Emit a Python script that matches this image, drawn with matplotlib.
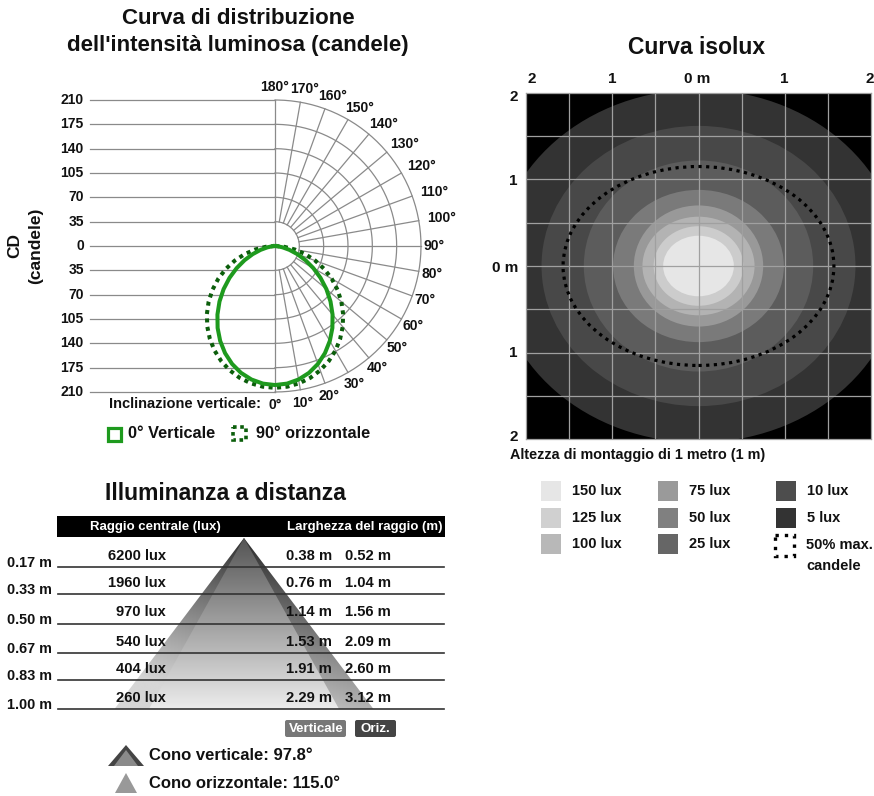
import numpy as np
import matplotlib
matplotlib.use('Agg')
import matplotlib.pyplot as plt
from matplotlib.patches import Ellipse, Rectangle, Polygon, FancyBboxPatch
from matplotlib.colors import LinearSegmentedColormap

plt.rcParams['font.family'] = ['Liberation Sans', 'DejaVu Sans']
plt.rcParams['font.weight'] = 'bold'

W, H = 874, 796

# ---------------- data ----------------
cd_tick_values = [210, 175, 140, 105, 70, 35, 0, -35, -70, -105, -140, -175, -210]
cd_rings = [35, 70, 105, 140, 175, 210]
angle_labels = list(range(0, 181, 10))
theta_deg = [0, 5, 10, 15, 20, 25, 30, 35, 40, 45, 50, 55, 60, 65, 70, 75, 80, 85, 90]
cd_vertical = [200, 198.7, 195, 188.9, 180.5, 170, 157.7, 143.9, 128.8, 112.9,
               96.5, 79.9, 63.7, 48.3, 34.1, 21.5, 11.1, 3.6, 0]
cd_horizontal = [204, 203.1, 200.5, 196.3, 190.3, 182.8, 173.8, 163.3, 151.5, 138.6,
                 124.6, 109.8, 94.2, 78.1, 61.7, 45.2, 29.0, 13.4, 0]

lux_levels = [5, 10, 25, 50, 75, 100, 125, 150]
iso_half_w = [2.35, 1.82, 1.33, 0.99, 0.75, 0.65, 0.52, 0.41]
iso_half_h = [2.04, 1.62, 1.22, 0.88, 0.70, 0.57, 0.46, 0.35]
iso_colors = ['#333333', '#484848', '#5c5c5c', '#7a7a7a', '#999999', '#b3b3b3', '#cccccc', '#e6e6e6']
legend_colors = ['#333333', '#4d4d4d', '#666666', '#808080', '#9a9a9a', '#b8b8b8', '#d0d0d0', '#e6e6e6']
half_cd_w, half_cd_h = 1.57, 1.15
iso_ticks = [-2, -1, 0, 1, 2]
iso_tick_labels = ['2', '1', '0 m', '1', '2']

distances = [0.17, 0.33, 0.50, 0.67, 0.83, 1.00]
center_lux = [6200, 1960, 970, 540, 404, 260]
width_vert = [0.38, 0.76, 1.14, 1.53, 1.91, 2.29]
width_horiz = [0.52, 1.04, 1.56, 2.09, 2.60, 3.12]
cone_vert = 97.8
cone_horiz = 115.0

GREEN = '#1e9a1e'
DGREEN = '#0b5e0b'
GRID = '#8a8a8a'

fig = plt.figure(figsize=(W / 100, H / 100), dpi=100)
fig.patch.set_facecolor('white')


def add_ax(x0, y0, x1, y1, **kw):
    return fig.add_axes([x0 / W, 1 - y1 / H, (x1 - x0) / W, (y1 - y0) / H], **kw)


ov = add_ax(0, 0, W, H)
ov.set_xlim(0, W)
ov.set_ylim(H, 0)
ov.axis('off')
ov.set_zorder(5)


def T(x, y, s, size=9, ha='left', va='center', color='#111111', **kw):
    ov.text(x, y, s, fontsize=size, ha=ha, va=va, color=color, fontweight='bold', **kw)


# ---------------- polar candela chart ----------------
s = 146 / 210.0  # px per cd
cx, cy = 275, 246
pax = add_ax(0, 80, 460, 450)
pax.set_xlim(-cx / s, (460 - cx) / s)
pax.set_ylim(-(450 - cy) / s, (cy - 80) / s)
pax.axis('off')

for v in cd_tick_values:
    pax.plot([-266, 0], [v, v], color=GRID, lw=0.9, zorder=1)
    pax.text(-275, v, str(abs(v)), ha='right', va='center', fontsize=10, fontweight='bold', color='#111111')
pax.plot([0, 0], [-210, 210], color=GRID, lw=0.9, zorder=1)
t = np.linspace(-np.pi / 2, np.pi / 2, 200)
for r in cd_rings:
    pax.plot(r * np.cos(t), r * np.sin(t), color=GRID, lw=0.9, zorder=1)
for a in angle_labels[1:-1]:
    ar = np.deg2rad(a)
    pax.plot([35 * np.sin(ar), 210 * np.sin(ar)], [-35 * np.cos(ar), -210 * np.cos(ar)],
             color=GRID, lw=0.9, zorder=1)
for a in angle_labels:
    ar = np.deg2rad(a)
    lab = f'{a}°'
    rr = 229
    off = (len(lab) - 3) * 14 * np.sin(ar)
    pax.text(rr * np.sin(ar) + off, -rr * np.cos(ar), lab, ha='center', va='center',
             fontsize=10, fontweight='bold', color='#111111')

th = np.deg2rad(np.array(theta_deg))
ang = np.concatenate([-th[::-1], th[1:]])
for vals, col, ls in [(cd_horizontal, DGREEN, (0, (1, 1.1))), (cd_vertical, GREEN, '-')]:
    I = np.array(vals)
    II = np.concatenate([I[::-1], I[1:]])
    pax.plot(II * np.sin(ang), -II * np.cos(ang), color=col, lw=2.9, linestyle=ls, zorder=3)

T(238, 19, 'Curva di distribuzione', size=16, ha='center')
T(238, 46, "dell'intensità luminosa (candele)", size=16, ha='center')
T(15, 246, 'CD', size=12.5, ha='center', rotation=90)
T(36, 246, '(candele)', size=12.5, ha='center', rotation=90)
T(261, 404, 'Inclinazione verticale:', size=10.5, ha='right')

ov.add_patch(Rectangle((107.5, 427.5), 13, 13, facecolor='white', edgecolor=GREEN, lw=2.3))
ov.add_patch(Rectangle((233, 427), 13, 13, facecolor='white', edgecolor=DGREEN, lw=2.6,
                       linestyle=(0, (1, 1))))
T(128, 434, '0° Verticale', size=11.7)
T(256, 434, '90° orizzontale', size=11.7)

# ---------------- isolux ----------------
iax = add_ax(526, 93, 871, 439)
iax.set_xlim(-2, 2)
iax.set_ylim(-2, 2)
iax.set_facecolor('black')
for hw, hh, col in zip(iso_half_w, iso_half_h, iso_colors):
    iax.add_patch(Ellipse((0, 0), 2 * hw, 2 * hh, facecolor=col, edgecolor='none', zorder=1))
for g in np.arange(-1.5, 1.51, 0.5):
    iax.axvline(g, color='#a0a0a0', lw=0.9, zorder=3)
    iax.axhline(g, color='#a0a0a0', lw=0.9, zorder=3)
iax.add_patch(Ellipse((0, 0), 2 * half_cd_w, 2 * half_cd_h, facecolor='none', edgecolor='black',
                      lw=2.3, linestyle=(0, (1, 1.4)), zorder=4))
iax.set_xticks([])
iax.set_yticks([])
for sp in iax.spines.values():
    sp.set_color('#a0a0a0')
    sp.set_linewidth(0.9)

T(697, 47, 'Curva isolux', size=16.5, ha='center')
top_x = [527, 612, 697, 784, 874]
top_ha = ['left', 'center', 'center', 'center', 'right']
for xv, lab, x, ha in zip(iso_ticks, iso_tick_labels, top_x, top_ha):
    T(x, 79, lab, size=11, ha=ha)
left_y = [97, 181, 268, 353, 437]
for yv, lab, y in zip(iso_ticks, iso_tick_labels, left_y):
    T(518, y, lab, size=11, ha='right')
T(510, 455, 'Altezza di montaggio di 1 metro (1 m)', size=10.4)

leg_order = [150, 125, 100, 75, 50, 25, 10, 5]
col_x = [541, 658, 776]
row_y = [491, 518, 544]
for i, lv in enumerate(leg_order):
    c = i // 3
    r = i % 3
    col = legend_colors[lux_levels.index(lv)]
    ov.add_patch(Rectangle((col_x[c], row_y[r] - 10), 20, 20, facecolor=col, edgecolor='none'))
    T(col_x[c] + 31, row_y[r], f'{lv} lux', size=10.5)
ov.add_patch(Rectangle((775, 535), 19, 21, facecolor='none', edgecolor='black', lw=2.4,
                       linestyle=(0, (1, 1.8))))
T(806, 545, '50% max.', size=10.5)
T(806, 566, 'candele', size=10.5)

# ---------------- illuminance vs distance ----------------
apx, apy = 244, 538
mx, my = 83.0, 171.0
tax = add_ax(0, 500, 450, 796)
tax.set_xlim(-apx / mx, (450 - apx) / mx)
tax.set_ylim((796 - apy) / my, (500 - apy) / my)
tax.axis('off')

cmap_h = LinearSegmentedColormap.from_list('h', ['#2e2e2e', '#d6d6d6'])
cmap_v = LinearSegmentedColormap.from_list('v', ['#555555', '#ececec'])
for wlist, cm, z, k in [(width_horiz, cmap_h, 1, 0.22), (width_vert, cmap_v, 2, 0.0)]:
    half = wlist[-1] / 2
    depth = distances[-1]
    poly = Polygon([(0, 0), (-half, depth), (half, depth)], closed=True,
                   facecolor='none', edgecolor='none', transform=tax.transData)
    tax.add_patch(poly)
    X, Dd = np.meshgrid(np.linspace(-half, half, 300), np.linspace(0, depth, 300))
    Z = np.clip(Dd / depth - k * X / half, 0, 1)
    im = tax.imshow(Z, extent=(-half, half, depth, 0), origin='upper', cmap=cm, vmin=0, vmax=1,
                    aspect='auto', zorder=z, interpolation='bilinear')
    im.set_clip_path(poly)

xl, xr = (58 - apx) / mx, (444 - apx) / mx
for d in distances:
    tax.plot([xl, xr], [d, d], color='#333333', lw=1.2, zorder=4)

T(225, 493, 'Illuminanza a distanza', size=16.5, ha='center')
ov.add_patch(Rectangle((57, 516), 388, 21, facecolor='black', edgecolor='none'))
T(155, 527, 'Raggio centrale (lux)', size=9.5, ha='center', color='white')
T(365, 527, 'Larghezza del raggio (m)', size=9.5, ha='center', color='white')

for d, lux, wv, wh in zip(distances, center_lux, width_vert, width_horiz):
    yline = apy + d * my
    ymid = yline - 11
    T(7, yline - 4, f'{d:.2f} m', size=10.4)
    T(166, ymid, f'{lux} lux', size=10.6, ha='right', zorder=6)
    T(286, ymid, f'{wv:.2f} m', size=10.6, zorder=6)
    T(345, ymid, f'{wh:.2f} m', size=10.6, zorder=6)

ov.add_patch(FancyBboxPatch((285, 720), 61, 17, boxstyle='round,pad=0,rounding_size=2',
                            facecolor='#777777', edgecolor='none'))
ov.add_patch(FancyBboxPatch((355, 720), 41, 17, boxstyle='round,pad=0,rounding_size=2',
                            facecolor='#444444', edgecolor='none'))
T(316, 729, 'Verticale', size=9.6, ha='center', color='white')
T(375.5, 729, 'Oriz.', size=9.6, ha='center', color='white')

ov.add_patch(Polygon([(108, 766), (126, 745), (144, 766)], closed=True, facecolor='#444444', edgecolor='none'))
ov.add_patch(Polygon([(114, 766), (126, 750), (138, 766)], closed=True, facecolor='#8a8a8a', edgecolor='none'))
ov.add_patch(Polygon([(115, 793), (126, 773), (137, 793)], closed=True, facecolor='#999999', edgecolor='none'))
T(149, 756, f'Cono verticale: {cone_vert:.1f}°', size=12)
T(149, 783, f'Cono orizzontale: {cone_horiz:.1f}°', size=12)

fig.savefig('out.png', dpi=100)
